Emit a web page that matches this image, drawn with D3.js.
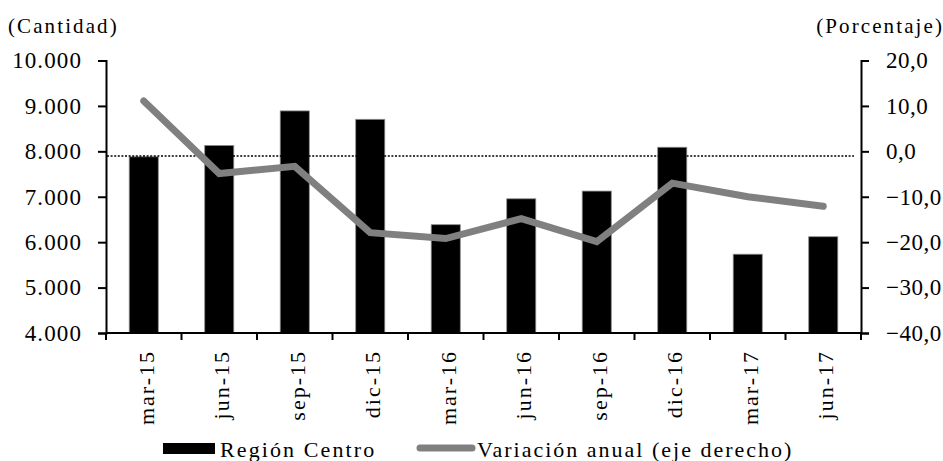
<!DOCTYPE html>
<html>
<head>
<meta charset="utf-8">
<script src="https://cdn.jsdelivr.net/npm/d3@7"></script>
<style>
  body { margin: 0; background: #fff; }
  svg text { font-family: "Liberation Serif", "Times New Roman", serif; }
  .tick text { letter-spacing: 1.1px; }
  .right .tick text { letter-spacing: 0.5px; }
  .lbl { letter-spacing: 2px; }
</style>
</head>
<body>
<div id="chart"></div>
<script>
(function combo_chart() {

  const categories = ["mar-15", "jun-15", "sep-15", "dic-15", "mar-16", "jun-16", "sep-16", "dic-16", "mar-17", "jun-17"];
  const regionCentro = [7880, 8130, 8890, 8705, 6385, 6955, 7125, 8090, 5735, 6120];
  const variacionAnual = [11.1, -4.9, -3.3, -17.9, -19.2, -14.8, -19.9, -7.0, -10.0, -12.1];
  const leftTicks = [4000, 5000, 6000, 7000, 8000, 9000, 10000];
  const rightTicks = [-40, -30, -20, -10, 0, 10, 20];
  const refLevel = 7900;

  const width = 943,
    height = 461;
  const margin = { top: 60.5, right: 82, bottom: 128, left: 106 };
  const serif = "Liberation Serif";

  const fmtLeft = v => d3.format(",")(v).replace(/,/g, ".");
  const fmtRight = v => d3.format(".1f")(v).replace(".", ",");

  const svg = d3.select("#chart")
    .append("svg")
    .attr("width", width)
    .attr("height", height)
    .attr("font-family", serif)
    .style("display", "block");

  const x = d3.scaleBand()
    .domain(categories)
    .range([margin.left, width - margin.right])
    .padding(0);

  const yLeft = d3.scaleLinear()
    .domain([4000, 10000])
    .range([height - margin.bottom, margin.top]);

  const yRight = d3.scaleLinear()
    .domain([-40, 20])
    .range([height - margin.bottom, margin.top]);

  const barW = x.bandwidth() * 0.385;

  // bars
  svg.append("g")
    .selectAll("rect")
    .data(regionCentro)
    .join("rect")
    .attr("x", (d, i) => x(categories[i]) + (x.bandwidth() - barW) / 2)
    .attr("y", d => yLeft(d))
    .attr("width", barW)
    .attr("height", d => yLeft(4000) - yLeft(d))
    .attr("fill", "#000")
    .attr("stroke", "#8c8c8c")
    .attr("stroke-width", 0.8);

  // dotted reference line
  svg.append("line")
    .attr("x1", margin.left + 1)
    .attr("x2", width - margin.right - 7)
    .attr("y1", yLeft(refLevel))
    .attr("y2", yLeft(refLevel))
    .attr("stroke", "#000")
    .attr("stroke-width", 1.5)
    .attr("stroke-dasharray", "2,1.6");

  // line series
  const line = d3.line()
    .x((d, i) => x(categories[i]) + x.bandwidth() / 2)
    .y(d => yRight(d));

  svg.append("path")
    .datum(variacionAnual)
    .attr("fill", "none")
    .attr("stroke", "#808080")
    .attr("stroke-width", 7)
    .attr("stroke-linecap", "round")
    .attr("d", line);

  // left axis
  const gL = svg.append("g")
    .attr("transform", `translate(${margin.left},0)`)
    .call(d3.axisLeft(yLeft).tickValues(leftTicks).tickFormat(fmtLeft).tickSize(8).tickPadding(16))
    .attr("font-family", serif);
  gL.select(".domain").attr("stroke-width", 2);
  gL.selectAll(".tick line").attr("stroke-width", 2);
  gL.selectAll(".tick text").attr("font-size", 23).attr("fill", "#000");

  // right axis
  const gR = svg.append("g")
    .attr("class", "right")
    .attr("transform", `translate(${width - margin.right},0)`)
    .call(d3.axisRight(yRight).tickValues(rightTicks).tickFormat(fmtRight).tickSize(8).tickPadding(17))
    .attr("font-family", serif);
  gR.select(".domain").attr("stroke-width", 2);
  gR.selectAll(".tick line").attr("stroke-width", 2);
  gR.selectAll(".tick text").attr("font-size", 23).attr("fill", "#000");

  // bottom axis with ticks between categories
  const base = height - margin.bottom;
  const gB = svg.append("g");
  gB.append("line")
    .attr("x1", margin.left).attr("x2", width - margin.right)
    .attr("y1", base).attr("y2", base)
    .attr("stroke", "#000").attr("stroke-width", 2);
  gB.selectAll("line.tk")
    .data(d3.range(categories.length + 1))
    .join("line")
    .attr("class", "tk")
    .attr("x1", i => margin.left + i * x.bandwidth())
    .attr("x2", i => margin.left + i * x.bandwidth())
    .attr("y1", base).attr("y2", base + 7)
    .attr("stroke", "#000").attr("stroke-width", 2);
  gB.selectAll("text")
    .data(categories)
    .join("text")
    .attr("class", "lbl")
    .attr("transform", d => `translate(${x(d) + x.bandwidth() / 2 + 10},${base + 17}) rotate(-90)`)
    .attr("text-anchor", "end")
    .attr("font-size", 22)
    .text(d => d);

  // axis titles
  svg.append("text")
    .attr("class", "lbl")
    .attr("x", 8).attr("y", 33)
    .attr("font-size", 21)
    .style("letter-spacing", "2.1px")
    .text("(Cantidad)");
  svg.append("text")
    .attr("class", "lbl")
    .attr("x", 944).attr("y", 33)
    .attr("text-anchor", "end")
    .attr("font-size", 21)
    .style("letter-spacing", "2.1px")
    .text("(Porcentaje)");

  // legend
  const lg = svg.append("g");
  lg.append("rect")
    .attr("x", 163).attr("y", 443)
    .attr("width", 52).attr("height", 11)
    .attr("fill", "#000");
  lg.append("text")
    .attr("class", "lbl")
    .attr("x", 220).attr("y", 457)
    .attr("font-size", 22)
    .style("letter-spacing", "2.1px")
    .text("Región Centro");
  lg.append("line")
    .attr("x1", 420).attr("x2", 472)
    .attr("y1", 448).attr("y2", 448)
    .attr("stroke", "#808080")
    .attr("stroke-width", 7)
    .attr("stroke-linecap", "round");
  lg.append("text")
    .attr("class", "lbl")
    .attr("x", 477).attr("y", 457)
    .attr("font-size", 22)
    .text("Variación anual (eje derecho)");

})();
</script>
</body>
</html>
